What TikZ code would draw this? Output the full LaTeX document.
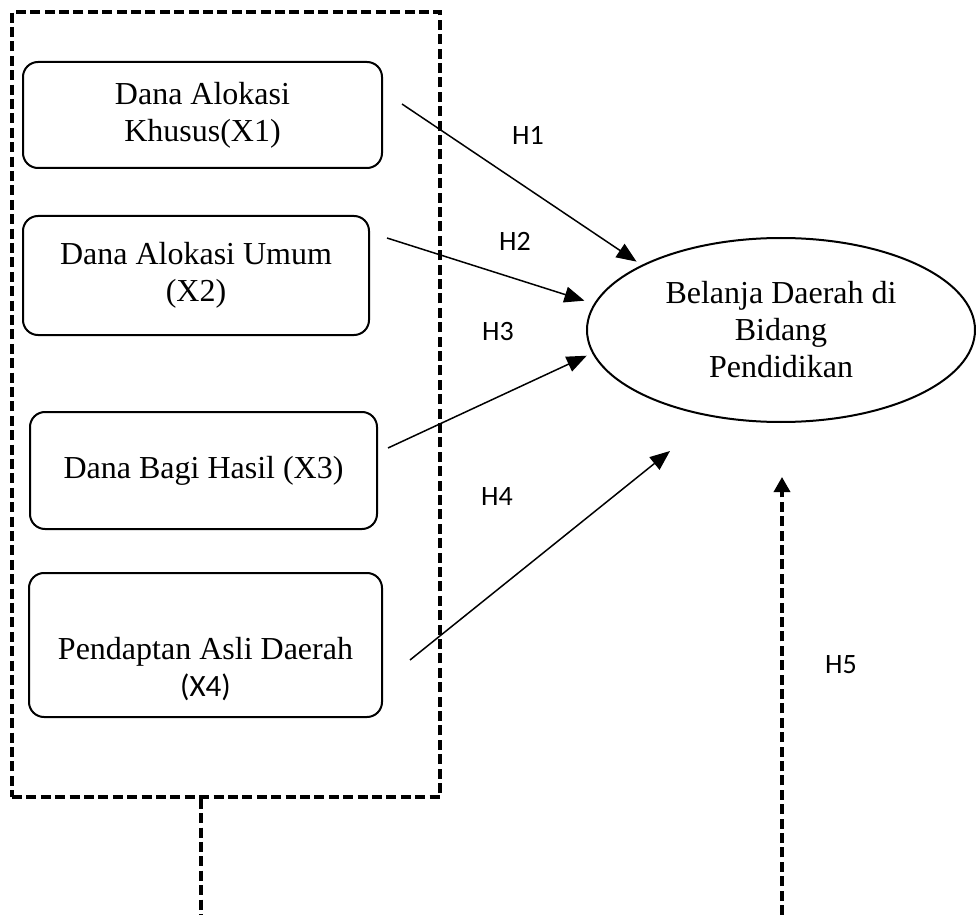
\documentclass[tikz,border=0pt]{standalone}
\usepackage{fontspec}
\setmainfont{Liberation Serif}
\newfontfamily\hfont{Carlito}
\usetikzlibrary{arrows.meta,shapes.geometric}

\tikzset{
  varbox/.style={draw,line width=1pt,rounded corners=7.5pt,align=center,inner sep=0pt,font=\fontsize{16}{18.5}\selectfont},
  hyp/.style={line width=0.75pt,shorten >=3pt,-{Triangle[length=10pt,width=8pt]}},
  grp/.style={line width=1.7pt,dash pattern=on 5pt off 2.2pt},
  hlab/.style={font=\hfont\fontsize{14}{16}\selectfont,inner sep=0pt}
}

\begin{document}
\begin{tikzpicture}[x=0.5pt,y=-0.5pt]
\useasboundingbox (0,0) rectangle (976,915);

% kelompok variabel X
\node[draw,grp,minimum width=214pt,minimum height=392.5pt,inner sep=0pt] (grup) at (226,404.5) {};

\node[varbox,minimum width=179.5pt,minimum height=53pt] (dak) at (202.5,115) {Dana Alokasi\\Khusus(X1)};
\node[varbox,minimum width=173pt,minimum height=59.5pt] (dau) at (196,275.5) {Dana Alokasi Umum\\(X2)};
\node[varbox,minimum width=173.5pt,minimum height=58.5pt] (dbh) at (203.5,470.5) {Dana Bagi Hasil (X3)};
\node[varbox,minimum width=176.5pt,minimum height=72pt,
  label={[align=center,inner sep=0pt,font=\fontsize{16}{18.5}\selectfont,yshift=-12pt]center:Pendaptan Asli Daerah\\{\hfont\fontsize{15.5}{18.5}\selectfont (X4)}}] (pad) at (205.5,645) {};

% variabel Y
\node[draw,ellipse,line width=1pt,minimum width=194pt,minimum height=92pt,inner sep=0pt,align=center,font=\fontsize{16}{18.5}\selectfont] (bd) at (781,330) {Belanja Daerah di\\Bidang\\Pendidikan};

\coordinate (s1) at (402,104);
\coordinate (s2) at (387,238);
\coordinate (s3) at (388,448);
\coordinate (s4) at (410,660);
\coordinate (t4) at (670,451);
\coordinate (b1) at (201,915);
\coordinate (b2) at (782,915);
\coordinate (t5) at (782,477);

\draw[hyp] (s1) -- (bd.155);
\draw[hyp,shorten >=5pt] (s2) -- (bd.172);
\draw[hyp] (s3) -- (bd.187);
\draw[hyp,shorten >=0pt] (s4) -- (t4);

\draw[grp] ([xshift=-12.5pt]grup.south) -- (b1);
\draw[grp,-{Triangle[length=7.5pt,width=8pt]}] (b2) -- (t5);

\node[hlab] (h1) at (528,135) {H1};
\node[hlab] (h2) at (515,241) {H2};
\node[hlab] (h3) at (498,332) {H3};
\node[hlab] (h4) at (497,497) {H4};
\node[hlab] (h5) at (841,665) {H5};

\end{tikzpicture}
\end{document}
